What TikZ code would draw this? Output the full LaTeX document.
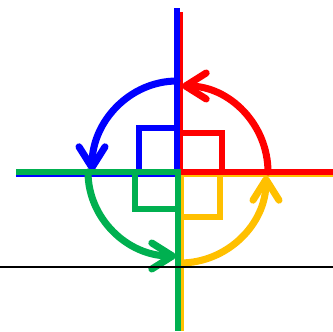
\documentclass[tikz,border=0pt]{standalone}
\usepackage{tikz}
\usetikzlibrary{arrows.meta}
\definecolor{qred}{RGB}{255,0,0}
\definecolor{qblue}{RGB}{0,0,255}
\definecolor{qyellow}{RGB}{255,192,0}
\definecolor{qgreen}{RGB}{0,176,80}

\begin{document}
\begin{tikzpicture}[x=0.03cm,y=-0.03cm,>={Straight Barb[length=0.62cm,width=0.78cm,line cap=round,line join=round]},ax/.style={line width=5.8pt},sq/.style={line width=5.6pt},rot/.style={line width=6pt,line cap=round,->}]
\useasboundingbox (0,0) rectangle (333,331);
\coordinate (o) at (178,172);
% yellow quarter
\draw[ax,qyellow] (180,174) -- (333,174);
\draw[ax,qyellow] (181,172) -- (181,331);
\draw[sq,qyellow] (181,172) rectangle (220,217);
\draw[rot,qyellow] (180,263) arc[start angle=90,end angle=0,x radius=86,y radius=87];
% red quarter
\draw[ax,qred] (180,12) -- (180,172);
\draw[ax,qred] (178,172) -- (333,172);
\draw[sq,qred] (180,133) rectangle (222,172);
\draw[rot,qred] (268,172) arc[start angle=360,end angle=270,x radius=86,y radius=86];
% blue quarter
\draw[ax,qblue] (177,8) -- (177,173);
\draw[ax,qblue] (177,174) -- (16,174);
\draw[sq,qblue] (139,128) rectangle (177,172);
\draw[rot,qblue] (177,81) arc[start angle=270,end angle=180,x radius=85,y radius=90];
% green quarter
\draw[ax,qgreen] (178,172) -- (16,172);
\draw[ax,qgreen] (178,171) -- (178,331);
\draw[sq,qgreen] (135,172) rectangle (178,209);
\draw[rot,qgreen] (88,172) arc[start angle=180,end angle=90,x radius=88,y radius=84];
% base line
\draw[line width=1.1pt] (0,267) -- (333,267);
\end{tikzpicture}
\end{document}
